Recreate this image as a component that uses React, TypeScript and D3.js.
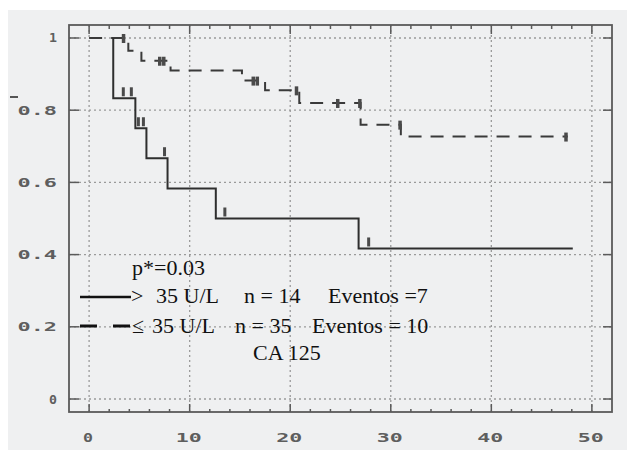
import React from "react";
import * as d3 from "d3";

// ---- data ----
const xTicks = [0, 10, 20, 30, 40, 50];
const yTicks = [0, 0.2, 0.4, 0.6, 0.8, 1];
const yTickLabels = ["0", "0.2", "0.4", "0.6", "0.8", "1"];

// > 35 U/L (solid)
const solidStart = 2.4;
const solidEnd = 48.1;
const solidTimes = [2.4, 4.6, 5.7, 7.8, 12.6, 26.8];
const solidSurv = [0.833, 0.75, 0.667, 0.583, 0.5, 0.417];
const solidCensor = [3.4, 4.2, 4.9, 5.4, 7.5, 13.5, 27.8];

// <= 35 U/L (dashed)
const dashStart = 0;
const dashEnd = 47.6;
const dashTimes = [3.9, 5.2, 8.1, 15.2, 17.5, 20.9, 27.0, 31.0];
const dashSurv = [0.965, 0.937, 0.91, 0.882, 0.855, 0.82, 0.76, 0.727];
const dashCensor = [3.4, 7.0, 7.4, 16.3, 16.7, 20.6, 24.7, 26.9, 30.9, 47.4];

const W = 627;
const H = 450;

const x = d3.scaleLinear().domain([-2, 52]).range([69, 612]);
const y = d3.scaleLinear().domain([-0.036, 1.036]).range([412, 25]);

function stepPoints(start: number, end: number, times: number[], surv: number[]) {
  const pts: [number, number][] = [[start, 1]];
  times.forEach((t, i) => pts.push([t, surv[i]]));
  pts.push([end, surv[surv.length - 1]]);
  return pts;
}

function survAt(t: number, times: number[], surv: number[]) {
  let s = 1;
  times.forEach((tt, i) => {
    if (tt <= t) s = surv[i];
  });
  return s;
}

const line = d3
  .line<[number, number]>()
  .x((d) => x(d[0]))
  .y((d) => y(d[1]))
  .curve(d3.curveStepAfter);

const monoFont = "'DejaVu Sans Mono', monospace";
const serif = "'Liberation Serif', 'DejaVu Serif', serif";

function labelLen(s: string) {
  return s.length === 1 ? 8 : 13.5 * s.length - 1;
}

export default function App() {
  const solidPts = stepPoints(solidStart, solidEnd, solidTimes, solidSurv);
  const dashPts = stepPoints(dashStart, dashEnd, dashTimes, dashSurv);
  const topTicks = d3.range(0, 51, 2);
  const [x0, x1] = x.range();
  const [yb, yt] = y.range();

  return (
    <svg
      width={W}
      height={H}
      style={{ position: "absolute", left: 0, top: 0, background: "#fff" }}
    >
      <rect x={8} y={10} width={W - 8} height={H - 10} fill="#eff0f1" />

      {/* grid */}
      {xTicks.map((v) => (
        <line
          key={"gx" + v}
          x1={x(v)}
          x2={x(v)}
          y1={yt}
          y2={yb}
          stroke="#9a9a9a"
          strokeWidth={1.3}
          strokeDasharray="2 3"
        />
      ))}
      {yTicks.map((v) => (
        <line
          key={"gy" + v}
          x1={x0}
          x2={x1}
          y1={y(v)}
          y2={y(v)}
          stroke="#9a9a9a"
          strokeWidth={1.3}
          strokeDasharray="2 3"
        />
      ))}

      {/* frame */}
      <rect
        x={x0}
        y={yt}
        width={x1 - x0}
        height={yb - yt}
        fill="none"
        stroke="#5a5a5a"
        strokeWidth={1.8}
      />

      {/* ticks */}
      {yTicks.map((v) => (
        <g key={"ty" + v} stroke="#5a5a5a" strokeWidth={1.5}>
          <line x1={x0} x2={x0 + 10} y1={y(v)} y2={y(v)} />
          <line x1={x1} x2={x1 - 9} y1={y(v)} y2={y(v)} />
        </g>
      ))}
      {topTicks.map((v) => {
        const major = v % 10 === 0;
        return (
          <g key={"tx" + v} stroke="#5a5a5a" strokeWidth={1.5}>
            <line x1={x(v)} x2={x(v)} y1={yt} y2={yt + (major ? 9 : 4)} />
            <line x1={x(v)} x2={x(v)} y1={yb} y2={yb - (major ? 8 : 3)} />
          </g>
        );
      })}

      {/* tick labels */}
      {yTicks.map((v, i) => (
        <text
          key={"ly" + v}
          x={57}
          y={y(v) + 4.5}
          textAnchor="end"
          fontFamily={monoFont}
          fontSize={11.5}
          fontWeight="bold"
          textLength={labelLen(yTickLabels[i])}
          lengthAdjust="spacingAndGlyphs"
          fill="#5e5e5e"
        >
          {yTickLabels[i]}
        </text>
      ))}
      {xTicks.map((v) => (
        <text
          key={"lx" + v}
          x={x(v) - 1}
          y={442}
          textAnchor="middle"
          fontFamily={monoFont}
          fontSize={12}
          fontWeight="bold"
          textLength={String(v).length === 1 ? 10 : 26}
          lengthAdjust="spacingAndGlyphs"
          fill="#5e5e5e"
        >
          {String(v)}
        </text>
      ))}
      <line x1={10} x2={18} y1={97} y2={97} stroke="#555" strokeWidth={2} />

      {/* curves */}
      <path
        d={line(dashPts) || ""}
        fill="none"
        stroke="#3a3a3a"
        strokeWidth={2}
        strokeDasharray="13 9"
      />
      <path
        d={line(solidPts) || ""}
        fill="none"
        stroke="#2e2e2e"
        strokeWidth={2}
      />

      {/* censor marks */}
      {solidCensor.map((t, i) => (
        <rect
          key={"sc" + i}
          x={x(t) - 1.5}
          y={y(survAt(t, solidTimes, solidSurv)) - 11}
          width={3}
          height={9}
          fill="#4a4a4a"
        />
      ))}
      {dashCensor.map((t, i) => (
        <rect
          key={"dc" + i}
          x={x(t) - 1.5}
          y={y(survAt(t, dashTimes, dashSurv)) - 4}
          width={3.5}
          height={9}
          fill="#4a4a4a"
        />
      ))}

      {/* legend / annotations */}
      <g fontFamily={serif} fontSize={22} fill="#111">
        <text x={132} y={275}>p*=0.03</text>
        <line x1={80} x2={131} y1={297} y2={297} stroke="#111" strokeWidth={2.5} />
        <text x={131} y={303}>&gt;</text>
        <text x={156} y={303}>35 U/L</text>
        <text x={244} y={303}>n = 14</text>
        <text x={328} y={303}>Eventos =7</text>
        <line x1={80} x2={97} y1={326} y2={326} stroke="#111" strokeWidth={3} />
        <line x1={113} x2={130} y1={326} y2={326} stroke="#111" strokeWidth={3} />
        <text x={132} y={333}>≤</text>
        <text x={152} y={333}>35 U/L</text>
        <text x={235} y={333}>n = 35</text>
        <text x={312} y={333}>Eventos = 10</text>
        <text x={253} y={360}>CA 125</text>
      </g>
    </svg>
  );
}
